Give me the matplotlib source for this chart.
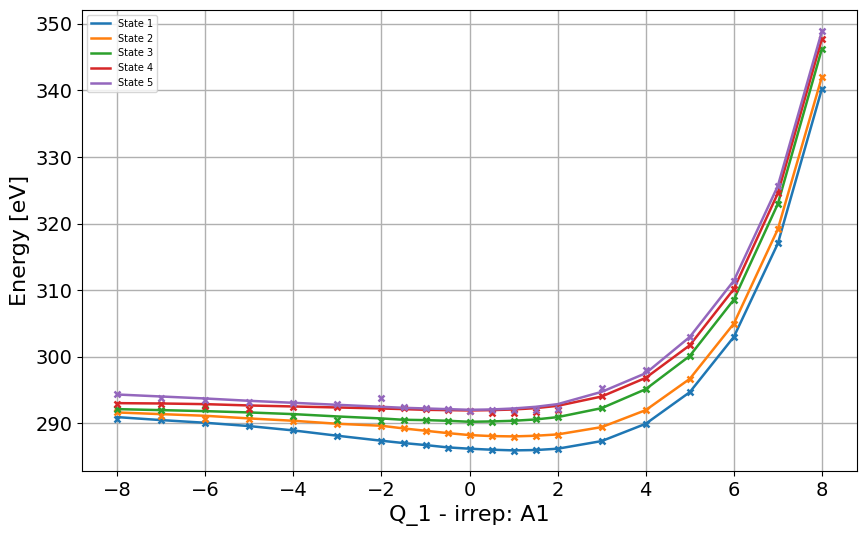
import matplotlib
matplotlib.use("Agg")
import matplotlib.pyplot as plt

# displacement along Q_1
q = [-8, -7, -6, -5, -4, -3, -2, -1.5, -1, -0.5, 0, 0.5, 1, 1.5, 2, 3, 4, 5, 6, 7, 8]

# fitted curves (lines)
fit_1 = [290.9, 290.45, 290.05, 289.55, 288.9, 288.1, 287.35, 287.0, 286.7, 286.35, 286.15,
         286.0, 285.9, 285.95, 286.15, 287.3, 289.9, 294.65, 302.95, 317.0, 340.25]
fit_2 = [291.6, 291.35, 291.1, 290.7, 290.35, 289.9, 289.6, 289.2, 288.85, 288.5, 288.2,
         288.05, 288.0, 288.1, 288.3, 289.4, 291.95, 296.65, 304.95, 319.15, 342.05]
fit_3 = [292.1, 291.95, 291.8, 291.6, 291.35, 291.0, 290.7, 290.5, 290.45, 290.35, 290.2,
         290.25, 290.35, 290.55, 290.9, 292.25, 295.1, 300.1, 308.55, 322.95, 346.25]
fit_4 = [293.0, 292.95, 292.85, 292.65, 292.5, 292.35, 292.2, 292.1, 292.0, 291.95, 291.9,
         291.95, 292.05, 292.25, 292.6, 294.0, 296.8, 301.7, 310.15, 324.55, 347.75]
fit_5 = [294.3, 294.0, 293.7, 293.35, 293.05, 292.75, 292.45, 292.3, 292.2, 292.1, 292.0,
         292.05, 292.2, 292.45, 292.85, 294.7, 297.5, 302.95, 311.4, 325.65, 348.9]

# computed points (markers)
pts_1 = [290.55, 290.4, 290.05, 289.55, 288.9, 288.05, 287.3, 286.95, 286.65, 286.3, 286.05,
         285.95, 285.85, 285.95, 286.1, 287.3, 289.9, 294.65, 302.95, 317.0, 340.25]
pts_2 = [291.7, 291.1, 290.55, 290.6, 290.3, 289.8, 289.55, 289.2, 288.8, 288.5, 288.15,
         288.0, 287.85, 288.05, 288.2, 289.4, 291.95, 296.65, 304.95, 319.15, 342.05]
pts_3 = [292.05, 291.9, 292.06, 291.55, 291.1, 290.5, 290.3, 290.4, 290.4, 290.3, 290.1,
         290.1, 290.35, 290.55, 290.9, 292.25, 295.1, 300.1, 308.55, 322.95, 346.25]
pts_4 = [292.9, 292.9, 292.6, 292.1, 292.45, 292.35, 292.3, 292.2, 292.1, 291.95, 291.85,
         291.5, 291.5, 291.7, 292.0, 294.0, 296.8, 301.7, 310.15, 324.55, 347.75]
pts_5 = [294.3, 293.8, 293.5, 293.1, 292.96, 292.8, 293.8, 292.45, 292.2, 292.05, 291.85,
         291.9, 291.9, 291.9, 292.1, 295.25, 297.95, 302.95, 311.4, 325.65, 348.9]

labels = ["State 1", "State 2", "State 3", "State 4", "State 5"]
fits = [fit_1, fit_2, fit_3, fit_4, fit_5]
points = [pts_1, pts_2, pts_3, pts_4, pts_5]
colors = ["#1f77b4", "#ff7f0e", "#2ca02c", "#d62728", "#9467bd"]

fig = plt.figure(figsize=(8.67, 5.37), dpi=100)
ax = fig.add_axes([0.0946, 0.1229, 0.894, 0.8585])

for lab, f, p, c in zip(labels, fits, points, colors):
    ax.plot(q, f, color=c, lw=1.8, label=lab)
    ax.plot(q, p, 'x', color=c, ms=4, mew=1.8)

ax.set_xlim(-8.8, 8.8)
ax.set_ylim(282.8, 352.1)
ax.set_xticks([-8, -6, -4, -2, 0, 2, 4, 6, 8])
ax.grid(True, color="#b0b0b0", lw=1)
ax.tick_params(labelsize=14)
ax.set_xlabel("Q_1 - irrep: A1", fontsize=16)
ax.set_ylabel("Energy [eV]", fontsize=16)
ax.legend(loc="upper left", fontsize=7)

fig.savefig("out.png", dpi=100)
